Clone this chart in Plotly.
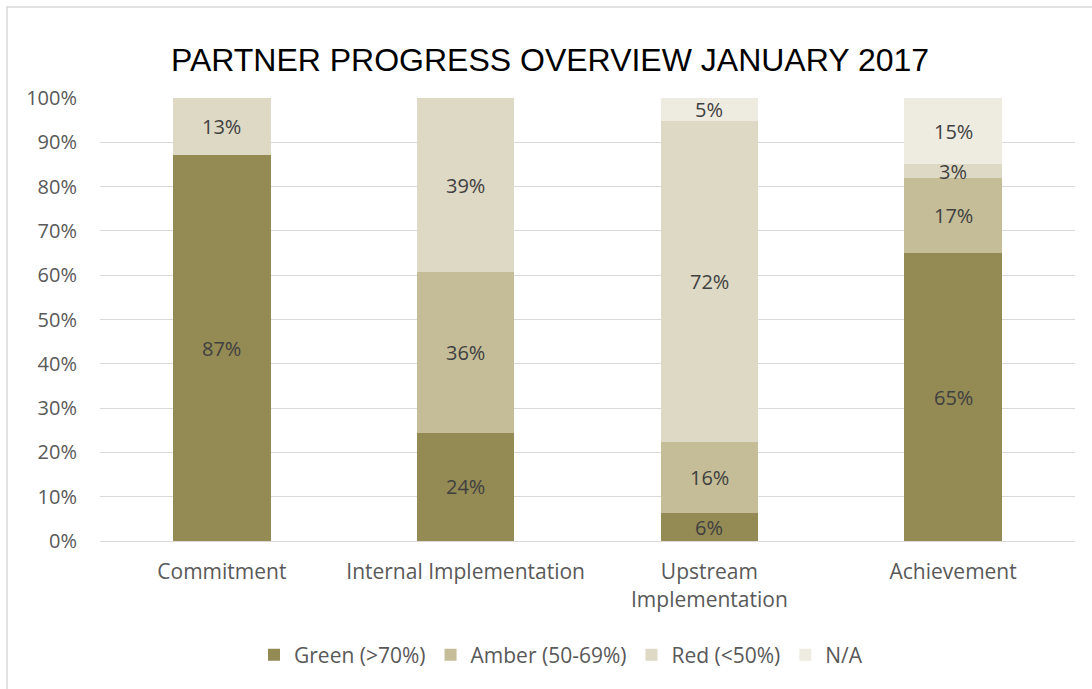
import plotly.graph_objects as go

categories = ["Commitment", "Internal Implementation", "Upstream<br>Implementation", "Achievement"]
series_names = ["Green (>70%)", "Amber (50-69%)", "Red (<50%)", "N/A"]
green = [87.1, 24.4, 6.3, 65.0]
amber = [None, 36.3, 16.0, 16.9]
red = [12.9, 39.3, 72.4, 3.2]
na = [None, None, 5.3, 14.9]
colors = ["#948A54", "#C4BD97", "#DDD9C4", "#EEECE1"]
tick_vals = [0, 10, 20, 30, 40, 50, 60, 70, 80, 90, 100]
tick_text = [f"{v}%" for v in tick_vals]

FONT = "'Open Sans', Lato, sans-serif"

fig = go.Figure()
all_series = [green, amber, red, na]
for name, vals, col in zip(series_names, all_series, colors):
    fig.add_trace(go.Bar(
        x=categories, y=vals, name=name, marker=dict(color=col, line=dict(width=0)),
        hoverinfo="skip",
    ))

# data labels centred in each segment
base = [0.0] * len(categories)
for vals in all_series:
    for i, v in enumerate(vals):
        if v is None:
            continue
        fig.add_annotation(x=categories[i], y=base[i] + v / 2, text=f"{round(v)}%",
                           showarrow=False, xref="x", yref="y",
                           font=dict(family=FONT, size=20, color="#404040"))
        base[i] += v

W, H = 1092, 689
L, R, T, B = 100, 1075, 98, 541
def px_x(p):
    return (p - L) / (R - L)
def px_y(p):
    return (B - p) / (B - T)

fig.update_layout(
    width=W, height=H,
    barmode="stack", bargap=0.6,
    paper_bgcolor="white", plot_bgcolor="white",
    margin=dict(l=L, r=W - R, t=T, b=H - B, autoexpand=False),
    title=dict(text="PARTNER PROGRESS OVERVIEW JANUARY 2017", x=550 / W, xanchor="center",
               xref="container", y=1 - 60 / H, yanchor="middle", yref="container",
               font=dict(family="Liberation Sans, Arial, sans-serif", size=32, color="#000000")),
    font=dict(family=FONT, color="#595959", size=20),
    legend=dict(orientation="h", x=px_x(561), xanchor="center", y=px_y(655), yanchor="middle",
                font=dict(family=FONT, size=21, color="#595959"), traceorder="normal"),
    showlegend=True,
    shapes=[dict(type="rect", xref="paper", yref="paper", x0=px_x(7), x1=px_x(1100),
                 y0=px_y(700), y1=px_y(7), line=dict(color="#D9D9D9", width=1.5), layer="below")],
)
fig.update_yaxes(range=[0, 100], tickvals=tick_vals, ticktext=tick_text, showgrid=True,
                 gridcolor="#D9D9D9", gridwidth=1, zeroline=False, showline=False,
                 ticks="", ticklabelstandoff=22, tickfont=dict(size=20, color="#595959"))
fig.update_xaxes(showline=True, linecolor="#D9D9D9", linewidth=1, ticks="",
                 ticklabelstandoff=12, tickfont=dict(size=21, color="#595959"))

fig.write_html("out.html", config={"displayModeBar": False},
               post_script="document.body.style.margin='0px';")
